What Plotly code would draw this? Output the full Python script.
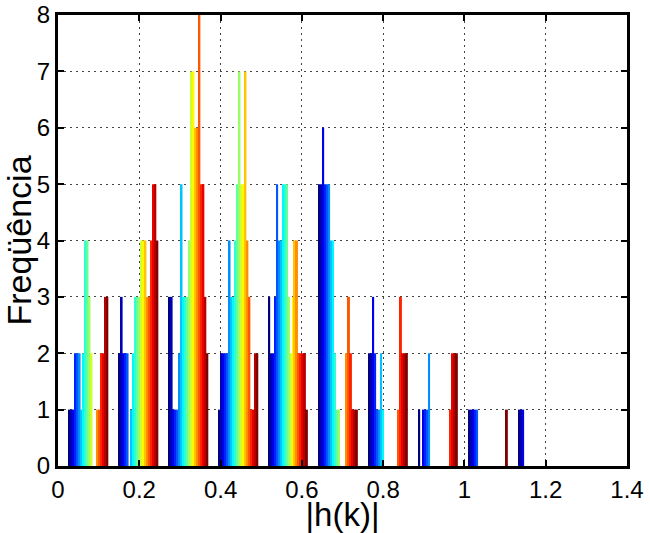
import plotly.graph_objects as go

# Histogram bin centres (|h(k)|)
bin_centers = [0.075, 0.198, 0.321, 0.444, 0.566, 0.689, 0.812, 0.935, 1.058, 1.181]

# Counts per bin, one value per series (20 series)
bin1 = [1, 1, 1, 2, 2, 2, 1, 2, 4, 4, 3, 2, 0, 0, 1, 1, 2, 2, 3, 3]
bin2 = [2, 3, 2, 2, 2, 0, 1, 2, 3, 3, 3, 4, 4, 4, 3, 3, 4, 5, 5, 4]
bin3 = [3, 3, 1, 1, 1, 2, 5, 3, 3, 3, 4, 7, 7, 6, 6, 8, 5, 5, 3, 2]
bin4 = [1, 2, 2, 2, 2, 4, 3, 3, 4, 5, 7, 5, 5, 7, 4, 3, 1, 1, 2, 2]
bin5 = [3, 2, 2, 3, 5, 4, 4, 5, 5, 5, 3, 2, 3, 4, 4, 2, 2, 2, 2, 1]
bin6 = [5, 5, 6, 5, 5, 5, 4, 4, 2, 1, 1, 0, 0, 0, 2, 3, 2, 1, 1, 1]
bin7 = [2, 2, 3, 2, 1, 1, 2, 1, 0, 0, 0, 0, 0, 0, 0, 1, 3, 2, 2, 2]
bin8 = [1, 0, 1, 1, 1, 2, 0, 0, 0, 0, 0, 0, 0, 0, 0, 0, 1, 2, 2, 2]
bin9 = [1, 1, 1, 1, 1, 0, 0, 0, 0, 0, 0, 0, 0, 0, 0, 0, 0, 0, 0, 1]
bin10 = [1, 1, 1, 0, 0, 0, 0, 0, 0, 0, 0, 0, 0, 0, 0, 0, 0, 0, 0, 0]

bins = [bin1, bin2, bin3, bin4, bin5, bin6, bin7, bin8, bin9, bin10]
n_series = len(bin1)

x_ticks = [0, 0.2, 0.4, 0.6, 0.8, 1, 1.2, 1.4]
x_tick_labels = ["0", "0.2", "0.4", "0.6", "0.8", "1", "1.2", "1.4"]
y_ticks = [0, 1, 2, 3, 4, 5, 6, 7, 8]


def jet(t):
    def c(v):
        return max(0.0, min(1.0, v))
    r = c(1.5 - abs(4 * t - 3))
    g = c(1.5 - abs(4 * t - 2))
    b = c(1.5 - abs(4 * t - 1))
    return "rgb(%d,%d,%d)" % (round(r * 255), round(g * 255), round(b * 255))


fig = go.Figure()
for j in range(n_series):
    fig.add_trace(go.Bar(
        x=bin_centers,
        y=[b[j] for b in bins],
        marker=dict(color=jet(j / (n_series - 1)), line=dict(width=0)),
        showlegend=False,
        hoverinfo="x+y",
    ))

font_family = "Liberation Sans, Arial, sans-serif"
axis_common = dict(
    showline=True, linecolor="black", linewidth=3, mirror="ticks",
    ticks="inside", ticklen=6, tickwidth=2, tickcolor="black",
    showgrid=True, gridcolor="#444444", gridwidth=1, griddash="2px,4px",
    zeroline=False, automargin=False,
    tickfont=dict(family=font_family, size=24, color="black"),
)

fig.update_layout(
    width=650, height=533,
    margin=dict(l=58, r=23, t=15, b=67),
    paper_bgcolor="white", plot_bgcolor="white",
    barmode="group", bargap=0.2, bargroupgap=0,
    font=dict(family=font_family, color="black"),
    xaxis=dict(range=[0, 1.4], tickvals=x_ticks, ticktext=x_tick_labels,
               title=dict(text="|h(k)|", font=dict(size=33), standoff=2),
               **axis_common),
    yaxis=dict(range=[0, 8], tickvals=y_ticks,
               title=dict(text="Freqüência", font=dict(size=34), standoff=4),
               **axis_common),
)

fig.write_html("out.html")
